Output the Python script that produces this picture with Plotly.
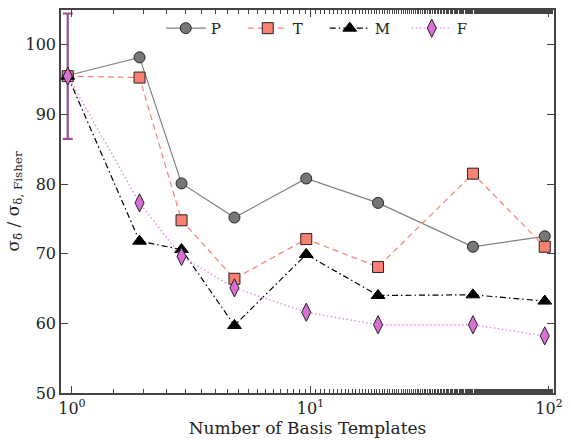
import plotly.graph_objects as go

n_templates = [0.96, 1.92, 2.88, 4.8, 9.6, 19.2, 48, 96]
P = [95.6, 98.2, 80.1, 75.2, 80.8, 77.3, 71.0, 72.5]
T = [95.5, 95.3, 74.8, 66.4, 72.1, 68.1, 81.5, 71.0]
M = [95.5, 71.8, 70.6, 59.7, 69.9, 64.0, 64.1, 63.2]
F = [95.5, 77.3, 69.6, 65.1, 61.6, 59.8, 59.8, 58.2]
err_x = [0.96]
err_y = [95.5]
err_size = [9.0]
x_tickvals = [1, 10, 100]
x_ticktext = ["10<sup>0</sup>", "10<sup>1</sup>", "10<sup>2</sup>"]

FONT = "DejaVu Serif"

fig = go.Figure()

fig.add_trace(go.Scatter(
    x=err_x, y=err_y, mode="markers", showlegend=False,
    marker=dict(size=1, opacity=0),
    error_y=dict(type="data", array=err_size, color="#9c4f96", thickness=2.2, width=5),
    hoverinfo="skip"))

series = [
    ("P", P, dict(color="#808080", width=1.2, dash="solid"),
     dict(symbol="circle", size=11, color="#777777", line=dict(color="#222222", width=1))),
    ("T", T, dict(color="#fa8072", width=1.2, dash="6px,4px"),
     dict(symbol="square", size=11, color="#fa8072", line=dict(color="#222222", width=1))),
    ("M", M, dict(color="#000000", width=1.2, dash="6px,3px,1.5px,3px"),
     dict(symbol="triangle-up", size=12, color="#000000", line=dict(color="#000000", width=1))),
    ("F", F, dict(color="#ee82ee", width=1.4, dash="1.5px,2.5px"),
     dict(symbol="diamond-tall", size=13, color="#da70d6", line=dict(color="#222222", width=1))),
]

for name, ys, ln, mk in series:
    fig.add_trace(go.Scatter(x=n_templates, y=ys, mode="lines+markers", name=name,
                             line=ln, marker=mk))

axis_common = dict(
    showgrid=False, zeroline=False, showline=True, linecolor="#444444", linewidth=1.5,
    mirror="ticks", ticks="inside", ticklen=7, tickwidth=1, tickcolor="#444444",
    tickfont=dict(family=FONT, size=16, color="#222222"),
)

fig.update_xaxes(
    type="log", range=[-0.046, 2.021], tickmode="array",
    tickvals=x_tickvals, ticktext=x_ticktext,
    minor=dict(ticks="inside", ticklen=4, tickcolor="#444444", showgrid=False),
    title=dict(text="Number of Basis Templates", font=dict(family=FONT, size=17, color="#222222"),
               standoff=2),
    **axis_common)
fig.update_yaxes(
    range=[50, 105], dtick=10,
    title=dict(text="σ<sub>δ̂</sub> / σ<sub>δ, Fisher</sub>",
               font=dict(family=FONT, size=17, color="#222222"), standoff=2),
    **axis_common)

fig.update_layout(
    width=571, height=440,
    margin=dict(l=61, r=8, t=8, b=46),
    plot_bgcolor="white", paper_bgcolor="white",
    font=dict(family=FONT, color="#222222"),
    legend=dict(orientation="h", x=0.535, xanchor="center", y=0.995, yanchor="top",
                font=dict(family=FONT, size=15), bgcolor="rgba(0,0,0,0)",
                itemwidth=40, entrywidth=27, entrywidthmode="pixels", tracegroupgap=0),
)

fig.write_html("out.html")
